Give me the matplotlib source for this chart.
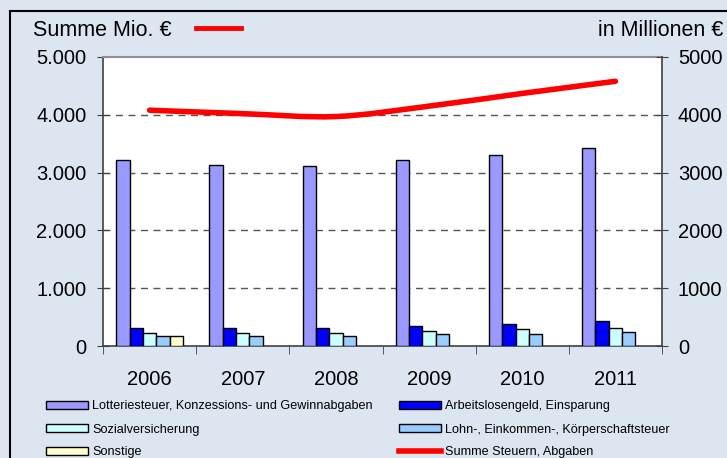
import numpy as np
import matplotlib
matplotlib.use("Agg")
from matplotlib import pyplot as plt
from matplotlib.path import Path
from matplotlib.patches import PathPatch, Patch
from matplotlib.lines import Line2D
from matplotlib.ticker import FuncFormatter

plt.rcParams['font.family'] = ['Liberation Sans', 'DejaVu Sans']

# data (Mio. EUR)
years = ['2006', '2007', '2008', '2009', '2010', '2011']
lotterie = [3225, 3140, 3120, 3225, 3310, 3425]
arbeitslos = [317, 317, 317, 347, 376, 428]
sozial = [231, 231, 231, 260, 289, 317]
lohn = [173, 173, 173, 208, 208, 237]
sonstige = [173, 0, 0, 0, 0, 0]
summe = [4080, 4020, 3970, 4150, 4370, 4580]

names = ['Lotteriesteuer, Konzessions- und Gewinnabgaben',
         'Arbeitslosengeld, Einsparung',
         'Sozialversicherung',
         'Lohn-, Einkommen-, Körperschaftsteuer',
         'Sonstige',
         'Summe Steuern, Abgaben']
colors = ['#9999FF', '#0000FF', '#CCFFFF', '#99CCFF', '#FFFFCC']
bg = '#DCE6F1'

fig = plt.figure(figsize=(7.27, 4.58), dpi=100, facecolor=bg)
ax = fig.add_axes([103/727, 1-346/458, (662-103)/727, (346-57)/458])
ax.set_facecolor('white')

x = np.arange(len(years))
w = 0.143
series = [lotterie, arbeitslos, sozial, lohn, sonstige]
for i, (vals, c) in enumerate(zip(series, colors)):
    v = np.array(vals, dtype=float)
    m = v > 0
    ax.bar(x[m] + (i - 2) * w, v[m], w, color=c, edgecolor='black',
           linewidth=1.0, zorder=3)

ax.set_xlim(-0.5, len(years) - 0.5)
ax.set_ylim(0, 5000)
ax.set_yticks(range(0, 5001, 1000))
ax.yaxis.set_major_formatter(FuncFormatter(lambda v, p: f"{int(v):,}".replace(',', '.')))
for yv in range(1000, 5000, 1000):
    ax.axhline(yv, color='#555555', lw=1.0, ls=(0, (5, 4)), zorder=1)

ax.set_xticks(x)
ax.set_xticklabels(years, fontsize=14.5)
ax.set_xticks(np.arange(-0.5, len(years)), minor=True)
ax.tick_params(axis='x', which='major', length=0, pad=17)
ax.tick_params(axis='x', which='minor', length=6, direction='out', color='#404040')
ax.tick_params(axis='y', direction='inout', length=8, labelsize=14.5, color='#404040', pad=8)

for s in ['left', 'bottom']:
    ax.spines[s].set_color('#404040')
    ax.spines[s].set_linewidth(1.2)
ax.spines['top'].set_color('#909090')
ax.spines['top'].set_linewidth(1.5)
ax.spines['right'].set_visible(False)

ax2 = ax.twinx()
ax2.set_ylim(0, 5000)
ax2.set_yticks(range(0, 5001, 1000))
ax2.tick_params(axis='y', direction='inout', length=8, labelsize=14.5, color='#404040', pad=7.5)
ax2.spines['right'].set_color('#404040')
ax2.spines['right'].set_linewidth(1.2)
for s in ['left', 'top', 'bottom']:
    ax2.spines[s].set_visible(False)

# smoothed line (bezier through data points, like the spreadsheet's smooth line)
pts = np.column_stack([x, summe]).astype(float)
ext = np.vstack([pts[0], pts, pts[-1]])
verts = [tuple(pts[0])]
codes = [Path.MOVETO]
for i in range(len(pts) - 1):
    p0, p1, p2, p3 = ext[i], ext[i + 1], ext[i + 2], ext[i + 3]
    c1 = p1 + (p2 - p0) / 6
    c2 = p2 - (p3 - p1) / 6
    verts += [tuple(c1), tuple(c2), tuple(p2)]
    codes += [Path.CURVE4] * 3
ax2.add_patch(PathPatch(Path(verts, codes), facecolor='none', edgecolor='#FF0000',
                        lw=4, capstyle='round', zorder=5))

# header texts
fig.text(33/727, 1-30/458, 'Summe Mio. €', fontsize=15.5, va='center', ha='left')
fig.add_artist(Line2D([196/727, 241/727], [1-28/458, 1-28/458], color='#FF0000', lw=3.5))
fig.text(723/727, 1-30/458, 'in Millionen €', fontsize=15.5, va='center', ha='right')

# outer frame
fig.add_artist(Line2D([10/727, 10/727], [0, 1-11/458], color='black', lw=1.5))
fig.add_artist(Line2D([10/727, 1], [1-11/458, 1-11/458], color='black', lw=1.5))

# legend in two columns
hs = [Patch(facecolor=c, edgecolor='black', lw=1.0) for c in colors]
line_h = Line2D([], [], color='#FF0000', lw=4)
lfont = dict(family=['Liberation Sans'], size=9.1)
fs = lfont['size'] * 100 / 72
kw = dict(frameon=False, prop=lfont, handlelength=42 / fs,
          handleheight=7 / fs, handletextpad=4 / fs,
          labelspacing=11 / fs, borderaxespad=0, borderpad=0,
          loc='center left')
fig.legend([hs[0], hs[2], hs[4]], [names[0], names[2], names[4]],
           bbox_to_anchor=(46/727, 1-429.5/458), **kw)
fig.legend([hs[1], hs[3], line_h], [names[1], names[3], names[5]],
           bbox_to_anchor=(399/727, 1-429.5/458), **kw)

fig.savefig('out.png', dpi=100, facecolor=bg)
